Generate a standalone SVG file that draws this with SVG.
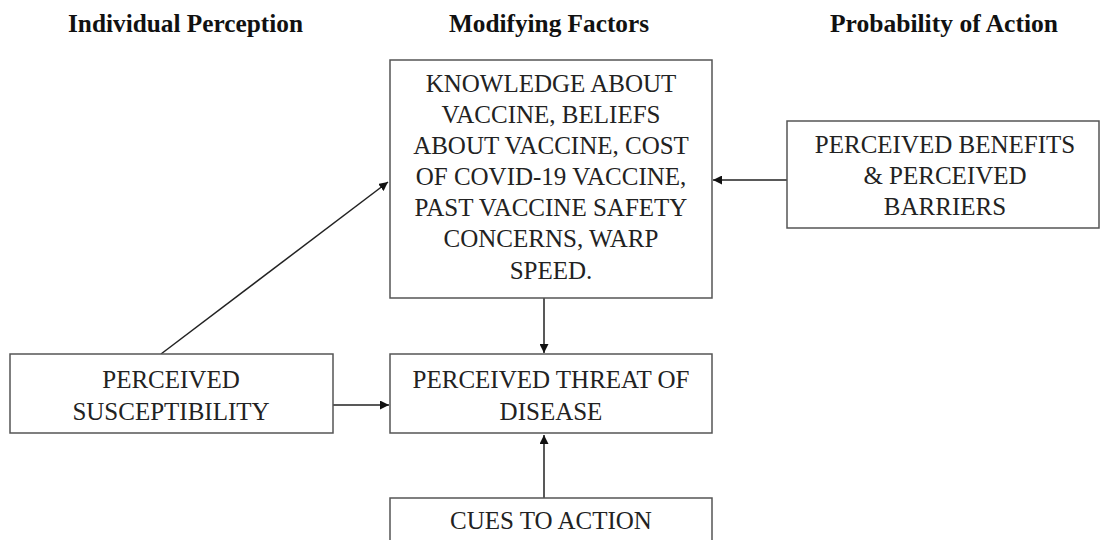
<svg xmlns="http://www.w3.org/2000/svg" width="1100" height="540" viewBox="0 0 1100 540">
<style>
.hdr{font-family:"Liberation Serif","Times New Roman",serif;font-weight:bold;font-size:25px;fill:#111}
.box{fill:#fff;stroke:#555;stroke-width:1.5}
.t{font-family:"Liberation Serif","Times New Roman",serif;font-size:25px;fill:#222;text-anchor:middle}
.c{stroke:#222;stroke-width:1.5;fill:none}
</style>
<defs>
<marker id="ah" viewBox="0 0 10 10" refX="10" refY="5" markerWidth="9" markerHeight="9" orient="auto" markerUnits="userSpaceOnUse">
<path d="M0,0 L10,5 L0,10 z" fill="#111"/>
</marker>
</defs>
<rect width="1100" height="540" fill="#fff"/>
<g id="headers">
<text class="hdr" x="68" y="32" textLength="235" lengthAdjust="spacingAndGlyphs">Individual Perception</text>
<text class="hdr" x="449" y="32" textLength="200" lengthAdjust="spacingAndGlyphs">Modifying Factors</text>
<text class="hdr" x="830" y="32" textLength="228" lengthAdjust="spacingAndGlyphs">Probability of Action</text>
</g>
<g id="connectors">
<line class="c" x1="161" y1="354" x2="388" y2="182" marker-end="url(#ah)"/>
<line class="c" x1="787" y1="180" x2="713" y2="180" marker-end="url(#ah)"/>
<line class="c" x1="544" y1="298" x2="544" y2="353" marker-end="url(#ah)"/>
<line class="c" x1="333" y1="405" x2="389" y2="405" marker-end="url(#ah)"/>
<line class="c" x1="544" y1="498" x2="544" y2="435" marker-end="url(#ah)"/>
</g>
<g id="modifying-factors">
<rect class="box" x="390" y="60" width="322" height="238"/>
<text class="t" x="551" y="92">KNOWLEDGE ABOUT</text>
<text class="t" x="551" y="123">VACCINE, BELIEFS</text>
<text class="t" x="551" y="154">ABOUT VACCINE, COST</text>
<text class="t" x="551" y="185">OF COVID-19 VACCINE,</text>
<text class="t" x="551" y="216">PAST VACCINE SAFETY</text>
<text class="t" x="551" y="247">CONCERNS, WARP</text>
<text class="t" x="551" y="279">SPEED.</text>
</g>
<g id="benefits-barriers">
<rect class="box" x="787" y="121" width="312" height="107"/>
<text class="t" x="945" y="153">PERCEIVED BENEFITS</text>
<text class="t" x="945" y="184">&amp; PERCEIVED</text>
<text class="t" x="945" y="215">BARRIERS</text>
</g>
<g id="susceptibility">
<rect class="box" x="10" y="354" width="323" height="79"/>
<text class="t" x="171" y="388">PERCEIVED</text>
<text class="t" x="171" y="420">SUSCEPTIBILITY</text>
</g>
<g id="threat">
<rect class="box" x="390" y="354" width="322" height="79"/>
<text class="t" x="551" y="388">PERCEIVED THREAT OF</text>
<text class="t" x="551" y="420">DISEASE</text>
</g>
<g id="cues">
<rect class="box" x="390" y="498" width="322" height="60"/>
<text class="t" x="551" y="529">CUES TO ACTION</text>
</g>
</svg>
